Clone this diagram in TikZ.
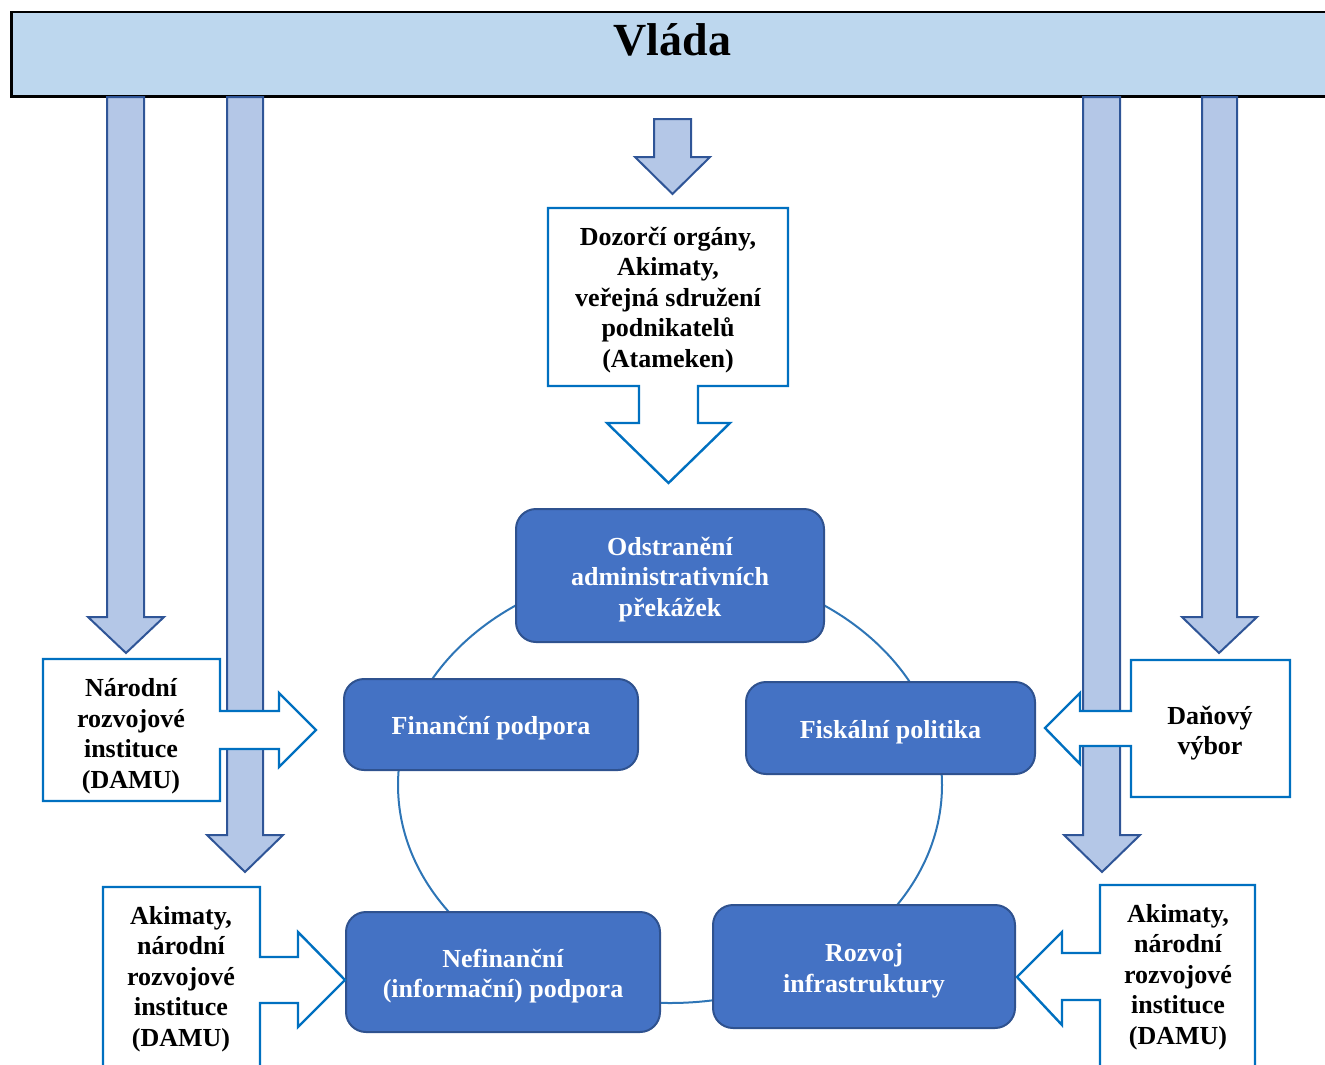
\documentclass[tikz,border=0pt]{standalone}
\usepackage{fontspec}
\setmainfont{Liberation Serif}
\definecolor{vladafill}{HTML}{BDD7EE}
\definecolor{arrfill}{HTML}{B4C7E7}
\definecolor{arrdraw}{HTML}{2F5597}
\definecolor{callblue}{HTML}{0070C0}
\definecolor{boxfill}{HTML}{4472C4}
\definecolor{boxdraw}{HTML}{2F528F}
\definecolor{ringblue}{HTML}{2E75B6}
\tikzset{
  bigarrow/.style={fill=arrfill, draw=arrdraw, line width=2pt, line join=miter},
  callout/.style={fill=white, draw=callblue, line width=2.4pt, line join=miter},
  calltext/.style={align=center, font=\bfseries\fontsize{26}{30.5}\selectfont, text=black, inner sep=0pt},
  topic/.style={rectangle, rounded corners=20pt, fill=boxfill, draw=boxdraw, line width=2pt,
    align=center, text=white, font=\bfseries\fontsize{26}{30.5}\selectfont, inner sep=0pt},
}
\begin{document}
\begin{tikzpicture}[x=1pt,y=-1pt]
\useasboundingbox (0,0) rectangle (1325,1065);
\clip (0,0) rectangle (1325,1065);
% government bar
\node[draw=black, line width=2.5pt, fill=vladafill, minimum width=1330pt, minimum height=84pt, anchor=north west, inner sep=0pt] (vladabox) at (10,11) {};
\node[font=\bfseries\fontsize{46}{50}\selectfont, anchor=base] (vlada) at (672.5,56) {Vláda};
% long down arrows
\draw[bigarrow] (107,97) -- (144,97) -- (144,617) -- (164,617) -- (126,653) -- (88,617) -- (107,617) -- cycle;
\draw[bigarrow] (227,97) -- (263,97) -- (263,835) -- (283,835) -- (245,872) -- (207,835) -- (227,835) -- cycle;
\draw[bigarrow] (1083,97) -- (1120,97) -- (1120,835) -- (1140,835) -- (1102,872) -- (1064,835) -- (1083,835) -- cycle;
\draw[bigarrow] (1202,97) -- (1237,97) -- (1237,617) -- (1257,617) -- (1219,653) -- (1182,617) -- (1202,617) -- cycle;
% small top arrow
\draw[bigarrow] (654,119) -- (691,119) -- (691,157) -- (710,157) -- (672.5,194) -- (635,157) -- (654,157) -- cycle;
% ring
\draw[ringblue, line width=2pt] (670,785) ellipse [x radius=272pt, y radius=218pt];
% topic boxes
\node[topic, minimum width=308pt, minimum height=133pt] (odstr) at (670,575.5) {};
\node[calltext, text=white] (odstrT) at (670,579.5) {Odstranění\\administrativních\\překážek};
\node[topic, minimum width=294pt, minimum height=91pt] (fin) at (491,724.5) {};
\node[calltext, text=white] (finT) at (491,728.5) {Finanční podpora};
\node[topic, minimum width=289pt, minimum height=92pt] (fisk) at (890.5,728) {};
\node[calltext, text=white] (fiskT) at (890.5,732) {Fiskální politika};
\node[topic, minimum width=314pt, minimum height=120pt] (nefin) at (503,972) {};
\node[calltext, text=white] (nefinT) at (503,976) {Nefinanční\\(informační) podpora};
\node[topic, minimum width=302pt, minimum height=123pt] (rozvoj) at (864,966.5) {};
\node[calltext, text=white] (rozvojT) at (864,971) {Rozvoj\\infrastruktury};
% callouts
\draw[callout] (548,208) -- (788,208) -- (788,386) -- (698,386) -- (698,423) -- (730,423) -- (668.5,483) -- (607,423) -- (639,423) -- (639,386) -- (548,386) -- cycle;
\node[calltext] (dozor) at (668,300) {Dozorčí orgány,\\Akimaty,\\veřejná sdružení\\podnikatelů\\(Atameken)};
\draw[callout] (43,659) -- (220,659) -- (220,711) -- (279,711) -- (279,693) -- (316,730) -- (279,767) -- (279,749) -- (220,749) -- (220,801) -- (43,801) -- cycle;
\node[calltext] (narodni) at (131,736) {Národní\\rozvojové\\instituce\\(DAMU)};
\draw[callout] (103,887) -- (260,887) -- (260,957) -- (298,957) -- (298,932) -- (345,980) -- (298,1027) -- (298,1003) -- (260,1003) -- (260,1085) -- (103,1085) -- cycle;
\node[calltext] (akimL) at (181,979) {Akimaty,\\národní\\rozvojové\\instituce\\(DAMU)};
\draw[callout] (1290,660) -- (1131,660) -- (1131,711) -- (1080,711) -- (1080,693) -- (1045,728) -- (1080,764) -- (1080,746) -- (1131,746) -- (1131,797) -- (1290,797) -- cycle;
\node[calltext] (danovy) at (1210,733) {Daňový\\výbor};
\draw[callout] (1255,885) -- (1100,885) -- (1100,953) -- (1062,953) -- (1062,932) -- (1017,977) -- (1062,1025) -- (1062,1000) -- (1100,1000) -- (1100,1085) -- (1255,1085) -- cycle;
\node[calltext] (akimR) at (1178,977) {Akimaty,\\národní\\rozvojové\\instituce\\(DAMU)};
\end{tikzpicture}
\end{document}
